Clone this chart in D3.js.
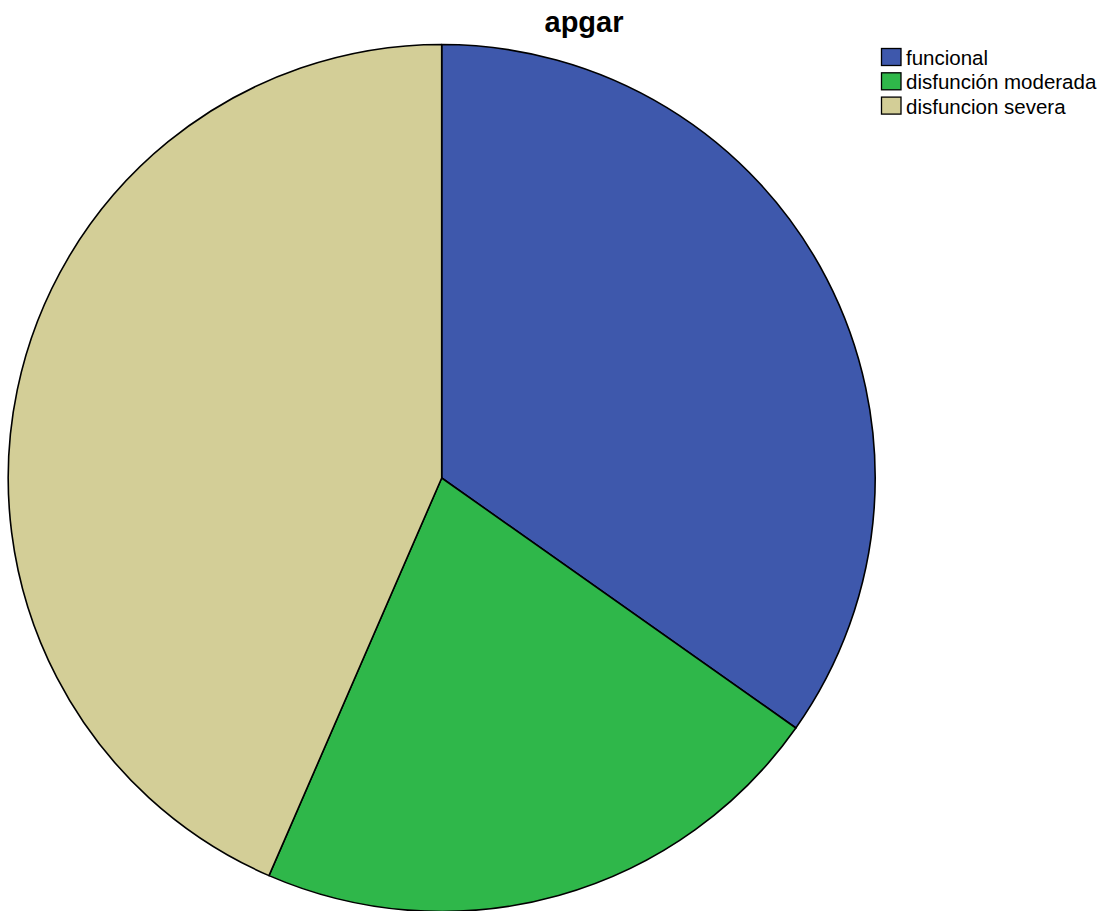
<!DOCTYPE html>
<html>
<head>
<meta charset="utf-8">
<script src="https://cdn.jsdelivr.net/npm/d3@7"></script>
<style>
  html, body { margin: 0; padding: 0; background: #fff; }
  svg { display: block; font-family: "Liberation Sans", Arial, sans-serif; }
</style>
</head>
<body>
<svg id="chart" width="1104" height="911"></svg>
<script>
// APGAR family function categories and their counts
const categories = ["funcional", "disfunción moderada", "disfuncion severa"];
const counts = [16, 10, 20];
const colors = ["#3e58ac", "#2fb74a", "#d3ce97"];
const title = "apgar";

const svg = d3.select("#chart");
const cx = 441.7, cy = 478, radius = 433.5;

const pie = d3.pie().sort(null).value(d => d)(counts);
const arc = d3.arc().innerRadius(0).outerRadius(radius);

svg.append("g")
  .attr("transform", `translate(${cx},${cy})`)
  .selectAll("path")
  .data(pie)
  .join("path")
  .attr("d", arc)
  .attr("fill", (d, i) => colors[i])
  .attr("stroke", "#000")
  .attr("stroke-width", 1.6)
  .attr("stroke-linejoin", "round");

svg.append("text")
  .attr("x", 584)
  .attr("y", 32)
  .attr("text-anchor", "middle")
  .attr("font-weight", "bold")
  .attr("font-size", 29)
  .attr("fill", "#000")
  .text(title);

// Legend: swatch + label per category
const legend = svg.append("g").attr("transform", "translate(881,48)");
const rows = legend.selectAll("g")
  .data(categories)
  .join("g")
  .attr("transform", (d, i) => `translate(0,${i * 24.3})`);
rows.append("rect")
  .attr("x", 0.5).attr("y", 0.5)
  .attr("width", 19.5).attr("height", 17)
  .attr("fill", (d, i) => colors[i])
  .attr("stroke", "#000")
  .attr("stroke-width", 1.3);
rows.append("text")
  .attr("x", 25)
  .attr("y", 17)
  .attr("font-size", 20.5)
  .attr("fill", "#000")
  .text(d => d);
</script>
</body>
</html>
